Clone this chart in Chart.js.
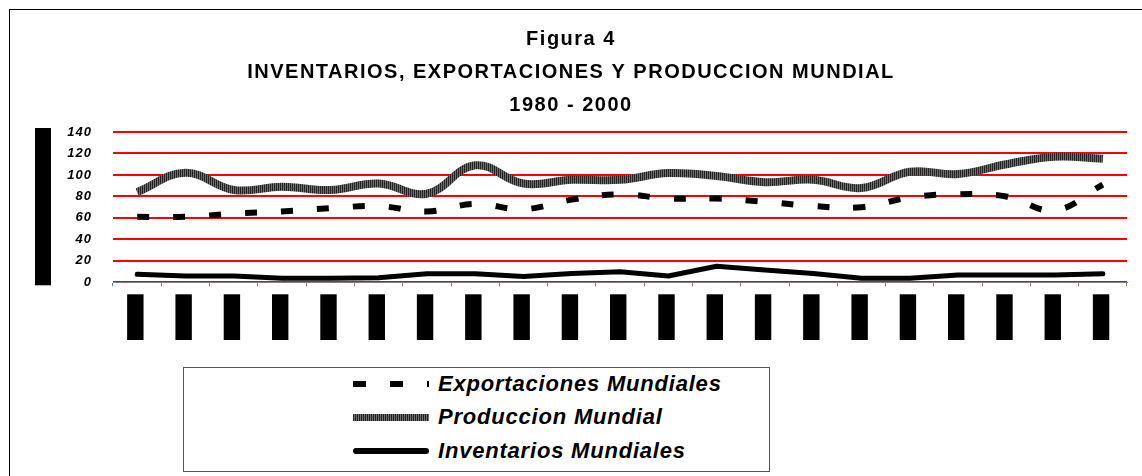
<!DOCTYPE html>
<html>
<head>
<meta charset="utf-8">
<script src="https://cdn.jsdelivr.net/npm/chart.js@4.4.1/dist/chart.umd.min.js"></script>
<style>
  html, body { margin:0; padding:0; background:#fff; overflow:hidden; }
  #wrap { position:relative; width:1142px; height:476px; }
  #frame { position:absolute; left:9px; top:9px; width:1300px; height:600px; border-left:1px solid #000; border-top:1px solid #000; }
  #mainChart { position:absolute; left:0; top:0; }
  #legend { position:absolute; left:183px; top:367px; width:585px; height:103px; border:1px solid #555; background:#fff;
            font-family: Arial, "Liberation Sans", sans-serif; font-weight:bold; font-style:italic; font-size:22px;
            letter-spacing:0.8px; color:#000; }
  .row { position:absolute; left:0; height:30px; line-height:30px; white-space:nowrap; }
  .row svg { position:absolute; left:169px; top:9px; }
  .row span { position:absolute; left:254px; top:0; }
</style>
</head>
<body>
<div id="wrap">
  <div id="frame"></div>
  <canvas id="mainChart" width="1142" height="476"></canvas>
  <div id="legend">
    <div class="row" style="top:1px">
      <svg width="76" height="12"><line x1="0" y1="6" x2="76" y2="6" stroke="#000" stroke-width="6" stroke-dasharray="13 24"/></svg>
      <span>Exportaciones Mundiales</span>
    </div>
    <div class="row" style="top:34px">
      <svg width="76" height="12">
        <defs><pattern id="stripes" width="2" height="12" patternUnits="userSpaceOnUse">
          <rect x="0" y="0" width="1" height="12" fill="#222"/><rect x="1" y="0" width="1" height="12" fill="#707070"/></pattern></defs>
        <rect x="0" y="3" width="76" height="7" fill="url(#stripes)"/></svg>
      <span>Produccion Mundial</span>
    </div>
    <div class="row" style="top:68px">
      <svg width="76" height="12"><line x1="3" y1="6" x2="73" y2="6" stroke="#000" stroke-width="6" stroke-linecap="round"/></svg>
      <span>Inventarios Mundiales</span>
    </div>
  </div>
</div>
<script>
const years = ['1980','1981','1982','1983','1984','1985','1986','1987','1988','1989','1990',
               '1991','1992','1993','1994','1995','1996','1997','1998','1999','2000'];
const exportaciones = [61, 61, 64, 66, 69, 71, 66, 73, 68, 77, 82, 78, 78, 75, 71, 70, 79, 82, 80, 67, 91];
const produccion = [84, 102, 86, 89, 86, 92, 82.5, 109, 92, 95.5, 95.5, 101.7, 99, 93.3, 95.5, 87.8, 103, 100.8, 110, 117, 115];
const inventarios = [7.4, 5.9, 5.9, 3.7, 3.7, 4.3, 8, 8, 5.3, 8.3, 9.9, 5.9, 15, 11.4, 8.3, 3.7, 3.7, 6.8, 6.8, 6.8, 8];
const yTicks = [0, 20, 40, 60, 80, 100, 120, 140];

const FONT = 'Arial, "Liberation Sans", sans-serif';

// gray striped texture for the production line
const pc = document.createElement('canvas');
pc.width = 2; pc.height = 2;
const pctx = pc.getContext('2d');
pctx.fillStyle = '#222'; pctx.fillRect(0, 0, 1, 2);
pctx.fillStyle = '#707070'; pctx.fillRect(1, 0, 1, 2);

const ctx = document.getElementById('mainChart').getContext('2d');
const stripes = ctx.createPattern(pc, 'repeat');

// black block where the y axis title sits, plus the loose letter spacing of the original
const decor = {
  id: 'decor',
  beforeDraw(chart) { chart.ctx.letterSpacing = '1px'; },
  afterDraw(chart) {
    const a = chart.chartArea, c = chart.ctx;
    c.save();
    c.fillStyle = '#000';
    c.fillRect(a.left - 78, a.top - 4, 16, a.bottom - a.top + 7);
    c.restore();
  }
};

const chart = new Chart(ctx, {
  type: 'line',
  data: {
    labels: years,
    datasets: [
      { label: 'Exportaciones Mundiales', data: exportaciones, borderColor: '#000', borderWidth: 6,
        borderDash: [12, 24], borderCapStyle: 'butt', tension: 0.4, pointRadius: 0, fill: false },
      { label: 'Produccion Mundial', data: produccion, borderColor: stripes, borderWidth: 8,
        tension: 0.4, pointRadius: 0, fill: false },
      { label: 'Inventarios Mundiales', data: inventarios, borderColor: '#000', borderWidth: 5,
        borderCapStyle: 'round', borderJoinStyle: 'round', tension: 0, pointRadius: 0, fill: false }
    ]
  },
  options: {
    responsive: false,
    animation: false,
    layout: { padding: { left: 15, right: 15, top: 10, bottom: 127 } },
    plugins: {
      legend: { display: false },
      tooltip: { enabled: false },
      title: {
        display: true,
        text: ['Figura 4', 'INVENTARIOS, EXPORTACIONES Y PRODUCCION MUNDIAL', '1980 - 2000'],
        color: '#000',
        font: { family: FONT, size: 20, weight: 'bold', lineHeight: 1.65 },
        padding: { top: 13, bottom: 10 }
      }
    },
    scales: {
      x: {
        offset: true,
        grid: { display: true, drawOnChartArea: false, drawTicks: true, tickLength: 4, color: '#808080', offset: true },
        border: { display: true, color: '#808080', width: 1 },
        ticks: {
          color: '#000', autoSkip: false, minRotation: 90, maxRotation: 90, padding: 18, labelOffset: -9,
          font: { family: FONT, size: 12, weight: 'bold' },
          showLabelBackdrop: true, backdropColor: '#000',
          backdropPadding: { left: 9, right: 10, top: 1, bottom: 1 }
        }
      },
      y: {
        min: 0, max: 140,
        afterBuildTicks: (s) => { s.ticks = yTicks.map(v => ({ value: v })); },
        afterFit: (s) => { s.width = 98; },
        grid: { color: '#ff0000', lineWidth: 2, drawTicks: false },
        border: { display: false },
        ticks: { color: '#000', padding: 21, font: { family: FONT, size: 13, weight: 'bold', style: 'italic' } }
      }
    }
  },
  plugins: [decor]
});

// the title is set wider than the ticks
const tb = chart.titleBlock;
const drawTitle = tb.draw.bind(tb);
tb.draw = function () {
  const c = this.ctx, prev = c.letterSpacing;
  c.letterSpacing = '1.5px';
  drawTitle();
  c.letterSpacing = prev;
};
chart.draw();
</script>
</body>
</html>
